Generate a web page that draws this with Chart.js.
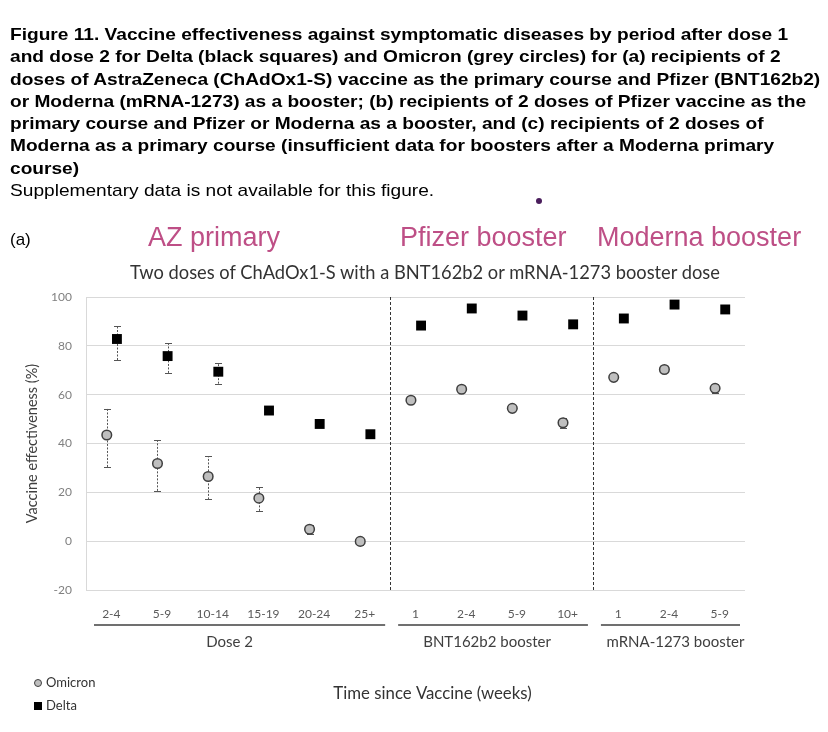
<!DOCTYPE html>
<html><head><meta charset="utf-8">
<script src="https://cdn.jsdelivr.net/npm/chart.js@4/dist/chart.umd.min.js"></script>
<style>
html,body{margin:0;padding:0;background:#fff;}
body{width:828px;height:732px;position:relative;overflow:hidden;font-family:"Liberation Sans",Arial,sans-serif;}
#wrap{position:absolute;left:0;top:0;width:828px;height:732px;}
#cap{position:absolute;left:10px;top:24px;font-size:17px;line-height:22.3px;color:#000;white-space:nowrap;z-index:2;transform:scaleX(1.125);transform-origin:0 0;}
#cap .b{font-weight:bold;}
.hd{position:absolute;top:221px;font-size:27px;line-height:32px;color:#be4f86;white-space:nowrap;z-index:2;}
#lab{position:absolute;left:10px;top:230px;font-size:17px;line-height:20px;z-index:2;}
#dot{position:absolute;left:536px;top:198px;width:6px;height:6px;border-radius:50%;background:#4a1d5c;z-index:2;}
#ctitle{position:absolute;left:0;width:850px;top:261px;text-align:center;font-family:Lato,"Open Sans",sans-serif;font-size:18.3px;line-height:22px;color:#333;white-space:nowrap;z-index:2;}
</style></head>
<body>
<div id="cap"><span class="b">Figure 11. Vaccine effectiveness against symptomatic diseases by period after dose 1<br>and dose 2 for Delta (black squares) and Omicron (grey circles) for (a) recipients of 2<br>doses of AstraZeneca (ChAdOx1-S) vaccine as the primary course and Pfizer (BNT162b2)<br>or Moderna (mRNA-1273) as a booster; (b) recipients of 2 doses of Pfizer vaccine as the<br>primary course and Pfizer or Moderna as a booster, and (c) recipients of 2 doses of<br>Moderna as a primary course (insufficient data for boosters after a Moderna primary<br>course)</span><br>Supplementary data is not available for this figure.</div>
<div id="dot"></div>
<div id="lab">(a)</div>
<div class="hd" style="left:148px">AZ primary</div>
<div class="hd" style="left:400px">Pfizer booster</div>
<div class="hd" style="left:597px">Moderna booster</div>
<div id="ctitle"></div>
<div id="wrap"><canvas id="c" width="828" height="732"></canvas></div>
<script>
// ---- data ----
const categories = ['2-4','5-9','10-14','15-19','20-24','25+','1','2-4','5-9','10+','1','2-4','5-9'];
const groupNames = ['Dose 2','BNT162b2 booster','mRNA-1273 booster'];
const groupStart = [0, 6, 10];
const groupEnd = [5, 9, 12];
const deltaVE   = [82.8, 75.8, 69.4, 53.5, 48.0, 43.8, 88.3, 95.3, 92.4, 88.8, 91.2, 96.9, 94.9];
const deltaLow  = [74.2, 68.9, 64.5, null, null, null, null, null, null, null, null, null, null];
const deltaHigh = [88.3, 81.1, 73.0, null, null, null, null, null, null, null, null, null, null];
const omicronVE   = [43.5, 31.8, 26.5, 17.6, 4.9, -0.1, 57.7, 62.2, 54.4, 48.5, 67.1, 70.3, 62.6];
const omicronLow  = [30.4, 20.6, 17.1, 12.4, 3.0, -1.6, null, null, null, 46.2, null, null, 60.8];
const omicronHigh = [54.3, 41.3, 34.8, 22.2, 6.8, 1.4, null, null, null, 50.6, null, null, 64.2];
const yTicks = [-20, 0, 20, 40, 60, 80, 100];
const chartTitle = 'Two doses of ChAdOx1-S with a BNT162b2 or mRNA-1273 booster dose';
const yTitle = 'Vaccine effectiveness (%)';
const xTitle = 'Time since Vaccine (weeks)';

document.getElementById('ctitle').textContent = chartTitle;

// ---- style constants ----
const DELTA_SHIFT = 0.11;
const OMICRON_SHIFT = -0.09;
const FONT = 'Lato, "Open Sans", sans-serif';

const extras = {
  id: 'extras',
  beforeDatasetsDraw(chart) {
    const {ctx, scales: {x, y}} = chart;
    ctx.save();
    ctx.strokeStyle = '#333';
    ctx.lineWidth = 1;
    ctx.setLineDash([3, 2]);
    groupStart.slice(1).forEach(s => {
      const px = Math.round(x.getPixelForValue(s - 0.5)) + 0.5;
      ctx.beginPath(); ctx.moveTo(px, y.top); ctx.lineTo(px, y.bottom); ctx.stroke();
    });
    chart.data.datasets.forEach(ds => {
      ds.data.forEach((p, i) => {
        const lo = ds.errLow[i], hi = ds.errHigh[i];
        if (lo == null || hi == null) return;
        const px = Math.round(x.getPixelForValue(p.x)) + 0.5;
        const yl = y.getPixelForValue(lo), yh = y.getPixelForValue(hi);
        ctx.strokeStyle = '#555';
        ctx.lineWidth = 1;
        ctx.setLineDash([2, 1.5]);
        ctx.beginPath(); ctx.moveTo(px, yl); ctx.lineTo(px, yh); ctx.stroke();
        ctx.setLineDash([]);
        ctx.beginPath();
        ctx.moveTo(px - 3.5, Math.round(yl) + 0.5); ctx.lineTo(px + 3.5, Math.round(yl) + 0.5);
        ctx.moveTo(px - 3.5, Math.round(yh) + 0.5); ctx.lineTo(px + 3.5, Math.round(yh) + 0.5);
        ctx.stroke();
      });
    });
    ctx.restore();
  },
  afterDraw(chart) {
    const {ctx, scales: {x, y}} = chart;
    ctx.save();
    const labelShift = [-10, -6, 5];
    groupNames.forEach((name, g) => {
      const x1 = x.getPixelForValue(groupStart[g] - 0.5) + 8;
      const x2 = x.getPixelForValue(groupEnd[g] + 0.5) - 5;
      ctx.strokeStyle = '#404040';
      ctx.lineWidth = 1.5;
      ctx.beginPath(); ctx.moveTo(x1, 625); ctx.lineTo(x2, 625); ctx.stroke();
      ctx.fillStyle = '#404040';
      ctx.font = '15px ' + FONT;
      ctx.textAlign = 'center'; ctx.textBaseline = 'middle';
      ctx.fillText(name, (x1 + x2) / 2 + labelShift[g], 642);
    });
    ctx.fillStyle = '#333';
    ctx.font = '16.8px ' + FONT;
    ctx.textAlign = 'center'; ctx.textBaseline = 'middle';
    ctx.fillText(xTitle, (x.left + x.right) / 2 + 17, 694);
    const dsO = chart.data.datasets[1], dsD = chart.data.datasets[0];
    ctx.beginPath(); ctx.arc(38, 683, 3.5, 0, Math.PI * 2);
    ctx.fillStyle = dsO.backgroundColor; ctx.fill();
    ctx.lineWidth = 1; ctx.strokeStyle = dsO.borderColor; ctx.stroke();
    ctx.fillStyle = dsD.backgroundColor;
    ctx.fillRect(34, 702, 8, 8);
    ctx.fillStyle = '#333';
    ctx.font = '13px ' + FONT;
    ctx.textAlign = 'left';
    ctx.fillText(dsO.label, 46, 683);
    ctx.fillText(dsD.label, 46, 706);
    ctx.restore();
  }
};

new Chart(document.getElementById('c'), {
  type: 'scatter',
  data: {
    datasets: [
      {
        label: 'Delta',
        data: categories.map((c, i) => ({x: i + DELTA_SHIFT, y: deltaVE[i]})),
        errLow: deltaLow, errHigh: deltaHigh,
        pointStyle: 'rect', pointRadius: 7, backgroundColor: '#000', borderColor: '#000', borderWidth: 0
      },
      {
        label: 'Omicron',
        data: categories.map((c, i) => ({x: i + OMICRON_SHIFT, y: omicronVE[i]})),
        errLow: omicronLow, errHigh: omicronHigh,
        pointStyle: 'circle', pointRadius: 4.8, backgroundColor: '#bfbfbf', borderColor: '#3f3f3f', borderWidth: 1.5
      }
    ]
  },
  options: {
    responsive: false,
    animation: false,
    events: [],
    layout: {padding: {top: 297, right: 83, left: 0, bottom: 0}},
    plugins: {
      legend: {display: false},
      tooltip: {enabled: false},
      title: {display: false}
    },
    scales: {
      x: {
        type: 'linear', min: -0.5, max: 12.5,
        afterBuildTicks: s => { s.ticks = categories.map((c, i) => ({value: i})); },
        afterFit: s => { s.height = 142; },
        grid: {display: false},
        border: {display: false},
        ticks: {padding: 9, color: '#595959', font: {family: FONT, size: 12}, maxRotation: 0, autoSkip: false,
          callback: v => categories[v]}
      },
      y: {
        min: -20, max: 100,
        afterBuildTicks: s => { s.ticks = yTicks.map(v => ({value: v})); },
        afterFit: s => { s.width = 86; },
        grid: {color: '#d9d9d9', lineWidth: 1, drawTicks: false},
        border: {display: true, color: '#d9d9d9'},
        ticks: {padding: 14, color: '#808080', font: {family: FONT, size: 12}},
        title: {display: true, text: yTitle, color: '#404040', font: {family: FONT, size: 14.5}, padding: {top: 24, bottom: 0}}
      }
    }
  },
  plugins: [extras]
});
</script>
</body></html>
